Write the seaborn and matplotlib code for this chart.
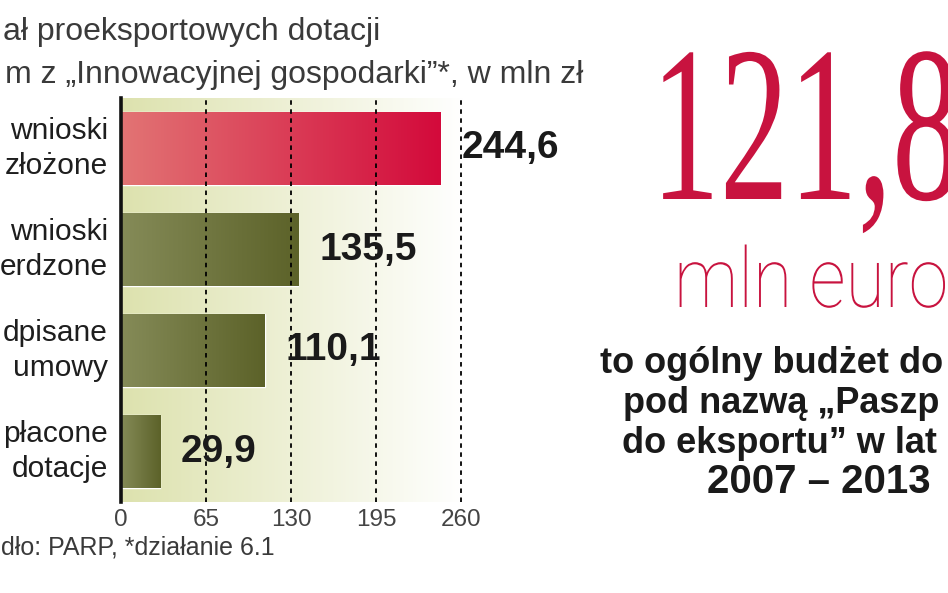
import numpy as np
import pandas as pd
import matplotlib
matplotlib.use("Agg")
import matplotlib.pyplot as plt
import seaborn as sns
from matplotlib.colors import LinearSegmentedColormap
from matplotlib import patheffects
from matplotlib.transforms import Affine2D, Bbox
from matplotlib.text import Text

# ---------------- data (text as visible in the cropped reference) ----------------
categories = ["wnioski\nzłożone", "wnioski\nerdzone", "dpisane\numowy", "płacone\ndotacje"]
values = [244.6, 135.5, 110.1, 29.9]
value_labels = ["244,6", "135,5", "110,1", "29,9"]
xticks = [0, 65, 130, 195, 260]
title_lines = ["ał proeksportowych dotacji",
               "m z \u201eInnowacyjnej gospodarki\u201d*, w mln zł"]
source_text = "dło: PARP, *działanie 6.1"
big_number = "121,8"
big_unit = "mln euro"
side_lines = ["to ogólny budżet do", "pod nazwą \u201ePaszp",
              "do eksportu\u201d w lat", "2007 \u2013 2013"]

# ---------------- style ----------------
RED = "#c8133f"
bar_grads = [("#e27474", "#d30a3b"), ("#858b58", "#5c6229"),
             ("#858b58", "#5c6229"), ("#858b58", "#5c6229")]
BG_LEFT, BG_RIGHT = "#dde2ae", "#ffffff"

sns.set_theme(style="white")
plt.rcParams["font.family"] = ["Liberation Sans", "DejaVu Sans"]


class Squeeze(patheffects.AbstractPathEffect):
    """Horizontally compress glyphs around the line origin."""
    def __init__(self, sx):
        super().__init__()
        self.sx = sx

    def draw_path(self, renderer, gc, tpath, affine, rgbFace=None):
        renderer.draw_path(gc, tpath, Affine2D().scale(self.sx, 1.0) + affine, rgbFace)


class SqueezedText(Text):
    """Left-aligned text drawn horizontally compressed; reports its true extent."""
    def __init__(self, *args, sx=1.0, **kwargs):
        super().__init__(*args, **kwargs)
        self._sx = sx
        self.set_path_effects([Squeeze(sx)])

    def get_window_extent(self, renderer=None, dpi=None):
        bb = super().get_window_extent(renderer, dpi)
        return Bbox.from_extents(bb.x0, bb.y0, bb.x0 + (bb.x1 - bb.x0) * self._sx, bb.y1)


W, H = 948, 593
fig = plt.figure(figsize=(W / 100, H / 100), dpi=100)
fig.patch.set_facecolor("white")

XMAX = 265
ax_left, ax_right = 121, 121 + XMAX * 340 / 260
ax_top, ax_bot = 98, 502
ax = fig.add_axes([ax_left / W, (H - ax_bot) / H, (ax_right - ax_left) / W, (ax_bot - ax_top) / H])

df = pd.DataFrame({"cat": categories, "val": values})
sns.barplot(data=df, x="val", y="cat", hue="cat", orient="h",
            palette=[g[1] for g in bar_grads], legend=False, width=0.72,
            saturation=1, ax=ax, zorder=1)

grad = np.linspace(0, 1, 256).reshape(1, -1)
# bar gradients, clipped to the seaborn bars
for p, (c0, c1) in zip(ax.patches, bar_grads):
    x0, y0, w, h = p.get_x(), p.get_y(), p.get_width(), p.get_height()
    cm = LinearSegmentedColormap.from_list("g", [c0, c1])
    im = ax.imshow(grad, extent=[x0, x0 + w, y0 + h, y0], aspect="auto",
                   cmap=cm, zorder=1.5, interpolation="bilinear")
    im.set_clip_path(p)

# axes background gradient
bg_cm = LinearSegmentedColormap.from_list("bg", [BG_LEFT, BG_RIGHT])
ax.imshow(grad, extent=[0, 262, 3.5, -0.5], aspect="auto", cmap=bg_cm,
          zorder=0, interpolation="bilinear")

ax.set_xlim(0, XMAX)
ax.set_ylim(3.5, -0.5)
ax.set_facecolor("white")
ax.set_xticks(xticks)
ax.set_xticklabels([str(t) for t in xticks])
ax.set_xlabel("")
ax.set_ylabel("")
ax.set_axisbelow(False)
ax.grid(axis="x", color="black", linestyle=(0, (2.5, 2.5)), linewidth=1.3, zorder=2.5)
ax.grid(axis="y", visible=False)
for s in ["top", "right", "bottom"]:
    ax.spines[s].set_visible(False)
ax.spines["left"].set_color("#111111")
ax.spines["left"].set_linewidth(2.6)
ax.spines["left"].set_zorder(3)
ax.tick_params(axis="both", length=0)
ax.tick_params(axis="x", pad=5, labelsize=17.5, labelcolor="#444444")
ax.tick_params(axis="y", pad=9.5, labelsize=21.5, labelcolor="#1e1e1e")
for t in ax.get_yticklabels():
    t.set_linespacing(1.3)
    t.set_va("center")

for cont, lab in zip(ax.containers, value_labels):
    ax.bar_label(cont, labels=[lab], padding=15, fontsize=28, fontweight="bold",
                 color="#1a1a1a", zorder=4)

# ---------------- texts ----------------
def fy(py):
    return (H - py) / H

fig.text(380 / W, fy(40), title_lines[0], ha="right", va="baseline",
         fontsize=23, color="#3a3a3a")
fig.text(583 / W, fy(83), title_lines[1], ha="right", va="baseline",
         fontsize=23, color="#3a3a3a")
fig.text(1 / W, fy(555), source_text, ha="left", va="baseline",
         fontsize=18, color="#3a3a3a")


def add_squeezed(x, y, s, sx, **kw):
    t = SqueezedText(x, y, s, sx=sx, transform=fig.transFigure, **kw)
    t.set_figure(fig)
    fig.texts.append(t)
    return t


add_squeezed(651 / W, fy(199), big_number, 0.62, ha="left", va="baseline",
             fontsize=160, color=RED, family=["Liberation Serif", "DejaVu Serif"])
add_squeezed(674 / W, fy(307), big_unit, 0.86, ha="left", va="baseline",
             fontsize=60, color=RED, family=["Roboto", "DejaVu Sans"], fontweight="light")

side_x = [600, 623, 622]
for i, (line, sx) in enumerate(zip(side_lines[:3], side_x)):
    fig.text(sx / W, fy(373 + 40 * i), line, ha="left", va="baseline",
             fontsize=26, fontweight="bold", color="#1a1a1a")
fig.text(819 / W, fy(493), side_lines[3], ha="center", va="baseline",
         fontsize=29, fontweight="bold", color="#1a1a1a")

fig.savefig("out.png", dpi=100, facecolor="white")
